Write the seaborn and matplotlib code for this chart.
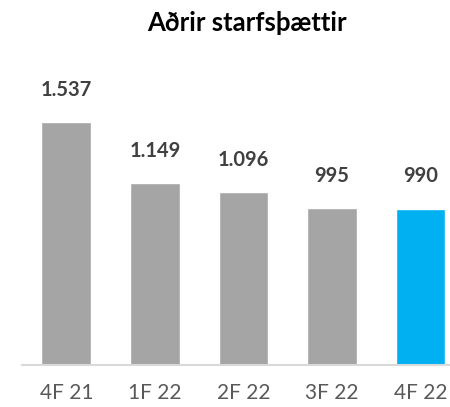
import matplotlib
matplotlib.use("Agg")
import matplotlib.pyplot as plt
import seaborn as sns
import pandas as pd

categories = ["4F 21", "1F 22", "2F 22", "3F 22", "4F 22"]
values = [1537, 1149, 1096, 995, 990]
value_labels = ["1.537", "1.149", "1.096", "995", "990"]
title = "Aðrir starfsþættir"

sns.set_theme(style="white")
plt.rcParams["font.family"] = ["Lato", "DejaVu Sans"]

colors = ["#A5A5A5", "#A5A5A5", "#A5A5A5", "#A5A5A5", "#00B0F0"]
df = pd.DataFrame({"cat": categories, "val": values})

fig = plt.figure(figsize=(4.5, 4.07), dpi=100)
ax = fig.add_axes([22 / 450, 42 / 407, 428 / 450, 305 / 407])
sns.barplot(data=df, x="cat", y="val", hue="cat", palette=colors, width=0.56,
            legend=False, ax=ax, saturation=1)

ax.set_xlim(-0.5, 4.334)
ax.set_ylim(0, 1930)
for s in ["top", "left", "right"]:
    ax.spines[s].set_visible(False)
ax.spines["bottom"].set_color("#D9D9D9")
ax.spines["bottom"].set_linewidth(1.5)
ax.set_yticks([])
ax.set_xlabel("")
ax.set_ylabel("")
ax.tick_params(axis="x", length=0, pad=13, labelsize=15, labelcolor="#595959")

for i, (v, lab) in enumerate(zip(values, value_labels)):
    ax.annotate(lab, (i, v), xytext=(0, 16), textcoords="offset points",
                ha="center", va="bottom", fontsize=14.5, fontweight="bold",
                color="#404040")

fig.text(247 / 450, 1 - 23 / 407, title, ha="center", va="center",
         fontsize=18.5, fontweight="bold", color="#000000")

fig.savefig("out.png", dpi=100)
